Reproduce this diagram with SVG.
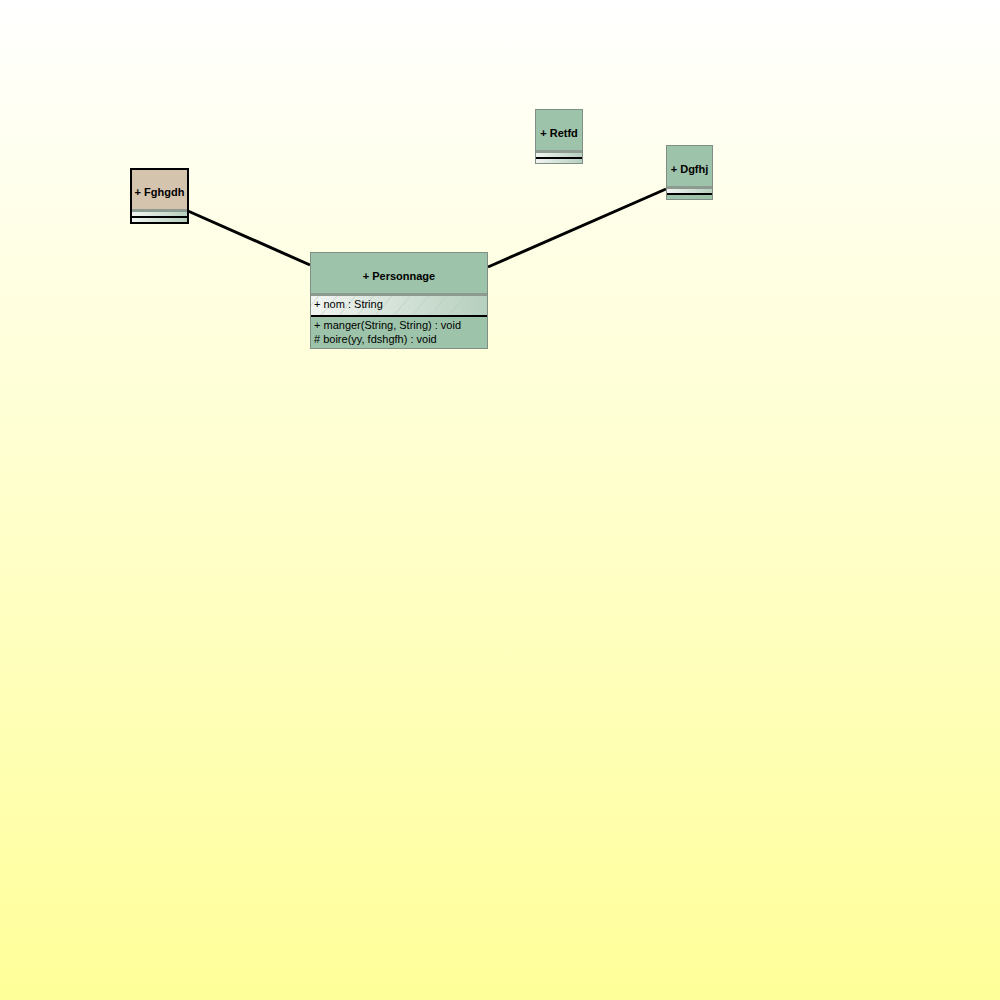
<svg xmlns="http://www.w3.org/2000/svg" width="1000" height="1000" viewBox="0 0 1000 1000">
<defs>
<linearGradient id="bg" x1="0" y1="0" x2="0" y2="1">
<stop offset="0" stop-color="#ffffff"/>
<stop offset="1" stop-color="#ffff99"/>
</linearGradient>
<linearGradient id="attr" x1="0" y1="0" x2="1" y2="0">
<stop offset="0" stop-color="#f2f5f2"/>
<stop offset="1" stop-color="#b5cfbd"/>
</linearGradient>
<pattern id="hatch" width="14" height="14" patternUnits="userSpaceOnUse" patternTransform="rotate(40)">
<line x1="0" y1="0" x2="0" y2="14" stroke="#b9c9be" stroke-width="1"/>
</pattern>
<style>
.hdr{fill:#9dc4aa}
.tan{fill:#d4c4ae}
.band{fill:#8c9a90}
.lite{fill:url(#attr)}
.sep{stroke:#000;stroke-width:2}
.t{font-family:"Liberation Sans",Arial,sans-serif;font-size:11px;fill:#000}
.b{font-weight:bold}
.edge{stroke:#000;stroke-width:3;fill:none}
</style>
</defs>
<rect width="1000" height="1000" fill="url(#bg)"/>
<g id="connectors">
<line class="edge" x1="188" y1="211" x2="310" y2="265"/>
<line class="edge" x1="488" y1="267" x2="666" y2="189"/>
</g>
<g id="Fghgdh">
<rect class="tan" x="131" y="169" width="57" height="40"/>
<rect class="band" x="131" y="209" width="57" height="3"/>
<rect class="lite" x="131" y="212" width="57" height="10"/>
<line class="sep" x1="131" y1="217" x2="188" y2="217"/>
<rect x="131" y="169" width="57" height="54" fill="none" stroke="#000" stroke-width="2"/>
<text class="t b" x="159.5" y="196" text-anchor="middle">+ Fghgdh</text>
</g>
<g id="Personnage">
<rect class="hdr" x="310" y="252" width="178" height="41"/>
<rect class="band" x="310" y="293" width="178" height="3"/>
<rect class="lite" x="310" y="296" width="178" height="19"/>
<rect fill="url(#hatch)" x="310" y="296" width="178" height="19"/>
<line class="sep" x1="310" y1="316" x2="488" y2="316"/>
<rect class="hdr" x="310" y="317" width="178" height="32"/>
<rect x="310.5" y="252.5" width="177" height="96" fill="none" stroke="#7f8f85" stroke-width="1"/>
<text class="t b" x="399" y="280" text-anchor="middle">+ Personnage</text>
<text class="t" x="314" y="308">+ nom : String</text>
<text class="t" x="314" y="329">+ manger(String, String) : void</text>
<text class="t" x="314" y="343"># boire(yy, fdshgfh) : void</text>
</g>
<g id="Retfd">
<rect class="hdr" x="535" y="109" width="48" height="41"/>
<rect class="band" x="535" y="150" width="48" height="3"/>
<rect class="lite" x="535" y="153" width="48" height="11"/>
<line class="sep" x1="535" y1="158" x2="583" y2="158"/>
<rect x="535.5" y="109.5" width="47" height="54" fill="none" stroke="#7f8f85" stroke-width="1"/>
<text class="t b" x="559" y="137" text-anchor="middle">+ Retfd</text>
</g>
<g id="Dgfhj">
<rect class="hdr" x="666" y="145" width="47" height="41"/>
<rect class="band" x="666" y="186" width="47" height="3"/>
<rect class="lite" x="666" y="189" width="47" height="5"/>
<line class="sep" x1="666" y1="194" x2="713" y2="194"/>
<rect class="hdr" x="666" y="195" width="47" height="5"/>
<rect x="666.5" y="145.5" width="46" height="54" fill="none" stroke="#7f8f85" stroke-width="1"/>
<text class="t b" x="689.5" y="173" text-anchor="middle">+ Dgfhj</text>
</g>
</svg>
